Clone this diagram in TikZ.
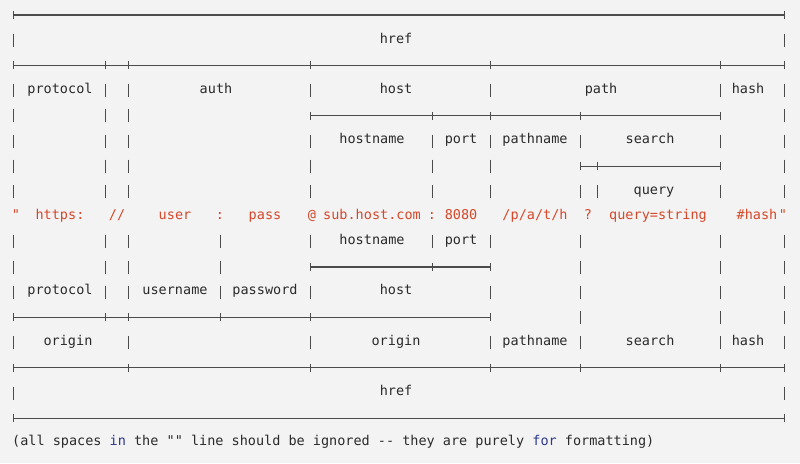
\documentclass[tikz,border=0pt]{standalone}
\usepackage{fontspec}
\setmonofont{DejaVu Sans Mono}
\definecolor{bgcol}{HTML}{F3F3F3}
\definecolor{inkcol}{HTML}{2B2B2B}
\definecolor{urlcol}{HTML}{D5482A}
\definecolor{kwcol}{HTML}{2D3A8C}
\usetikzlibrary{positioning}

\begin{document}
\begin{tikzpicture}[
    x=1pt, y=-1pt,
    % Styles
    lbl/.style={ % Field names
        font=\ttfamily\fontsize{13.5}{16}\selectfont,
        text=inkcol,
        text height=1.6ex,
        text depth=0.45ex,
        inner sep=0pt
    },
    url/.style={ % The example url
        lbl,
        text=urlcol
    },
    rule/.style={ % Box lines
        draw=inkcol!85,
        line width=1.1pt
    },
    bar/.style={
        rule,
        line width=1pt
    }
]
    \fill[bgcol] (0,0) rectangle (800,463);
    \useasboundingbox (0,0) rectangle (800,463);

    % Horizontal rules: row / from / to
    \foreach \r/\a/\b in {0/13/784, 2/13/784, 4/310/720, 6/580/720,
                          10/310/490, 12/13/490, 14/13/784, 16/13/784}
        \draw[rule] (\a,{15+25.2*\r}) -- (\b,{15+25.2*\r});

    % Vertical bars, one glyph per text row
    \foreach \x/\rows in {13/{1,3,4,5,6,7,9,10,11,13,15},
                          105/{3,4,5,6,7,9,10,11},
                          128/{3,4,5,6,7,9,10,11,13},
                          220/{9,10,11},
                          310/{3,5,6,7,9,11,13},
                          432/{5,6,7,9},
                          490/{3,5,6,7,9,11,13},
                          580/{5,7,9,10,11,12,13},
                          597/{7},
                          720/{3,5,7,9,10,11,12,13},
                          784/{1,3,4,5,6,7,9,10,11,12,13,15}}
        \foreach \r in \rows
            \draw[bar] (\x,{15+25.2*\r-6.5}) -- (\x,{15+25.2*\r+6.5});

    % Junction ticks on the rules
    \foreach \x/\rows in {13/{0,2,12,14,16}, 105/{2,12}, 128/{2,12,14},
                          220/{12}, 310/{2,4,10,12,14}, 432/{4,10},
                          490/{2,4,10,12,14}, 580/{4,6,14}, 597/{6},
                          720/{2,4,6,14}, 784/{0,2,14,16}}
        \foreach \r in \rows
            \draw[bar] (\x,{15+25.2*\r-4}) -- (\x,{15+25.2*\r+4});

    % Upper labels
    \node[lbl] (hreftop) at (396,41) {href};
    \node[lbl] (protocoltop) at (60,91) {protocol};
    \node[lbl] (auth) at (216,91) {auth};
    \node[lbl] (hosttop) at (396,91) {host};
    \node[lbl] (path) at (601,91) {path};
    \node[lbl] (hashtop) at (748,91) {hash};
    \node[lbl] (hostnametop) at (372,141) {hostname};
    \node[lbl] (porttop) at (461,141) {port};
    \node[lbl] (pathnametop) at (535,141) {pathname};
    \node[lbl] (searchtop) at (650,141) {search};
    \node[lbl] (query) at (654,192) {query};

    % The url line
    \node[url] (qopen) at (16,217) {"};
    \node[url] (scheme) at (60,217) {https:};
    \node[url] (slashes) at (117,217) {//};
    \node[url] (user) at (175,217) {user};
    \node[url] (colona) at (220,217) {:};
    \node[url] (pass) at (265,217) {pass};
    \node[url] (at) at (312,217) {@};
    \node[url] (hostval) at (372,217) {sub.host.com};
    \node[url] (colonb) at (432,217) {:};
    \node[url] (portval) at (461,217) {8080};
    \node[url] (pathval) at (535,217) {/p/a/t/h};
    \node[url] (qmark) at (588,217) {?};
    \node[url] (queryval) at (658,217) {query=string};
    \node[url] (hashval) at (757,217) {\#hash};
    \node[url] (qclose) at (783,217) {"};

    % Lower labels
    \node[lbl] (hostnamebot) at (372,242) {hostname};
    \node[lbl] (portbot) at (461,242) {port};
    \node[lbl] (protocolbot) at (60,292) {protocol};
    \node[lbl] (username) at (175,292) {username};
    \node[lbl] (password) at (265,292) {password};
    \node[lbl] (hostbot) at (396,292) {host};
    \node[lbl] (originl) at (68,343) {origin};
    \node[lbl] (originr) at (396,343) {origin};
    \node[lbl] (pathnamebot) at (535,343) {pathname};
    \node[lbl] (searchbot) at (650,343) {search};
    \node[lbl] (hashbot) at (748,343) {hash};
    \node[lbl] (hrefbot) at (396,393) {href};

    % Footnote
    \node[lbl, anchor=west] (note) at (12,443) {(all spaces \textcolor{kwcol}{in} the "" line should be ignored -- they are purely \textcolor{kwcol}{for} formatting)};
\end{tikzpicture}
\end{document}
